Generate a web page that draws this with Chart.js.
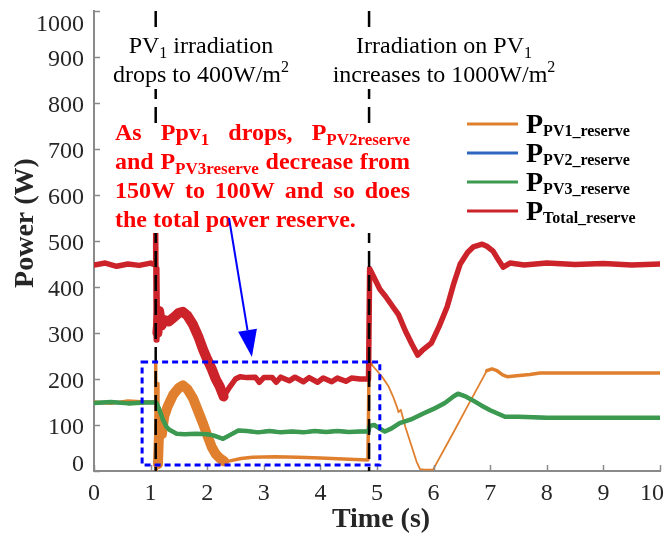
<!DOCTYPE html>
<html>
<head>
<meta charset="utf-8">
<script src="https://cdn.jsdelivr.net/npm/chart.js@4"></script>
<style>
  html, body { margin: 0; padding: 0; background: #fff; }
  canvas { display: block; }
</style>
</head>
<body>
<canvas id="powerChart" width="666" height="536"></canvas>
<script>
// time (s) and power (W)
const pv1Time  = [0, 0.3, 0.6, 0.9, 1.08, 1.09, 1.1, 1.115, 1.13, 1.16, 1.2, 1.24, 1.3, 1.4, 1.5, 1.57, 1.65, 1.75, 1.85, 1.93, 2.0, 2.08, 2.15, 2.22, 2.3, 2.4, 2.6, 2.8, 3.2, 3.6, 4.0, 4.4, 4.84, 4.86, 4.9, 5.0, 5.1, 5.2, 5.28, 5.35, 5.38, 5.42, 5.5, 5.6, 5.7, 5.76, 5.85, 5.99, 6.2, 6.4, 6.6, 6.8, 6.94, 7.03, 7.12, 7.22, 7.3, 7.47, 7.7, 7.88, 9.0, 10];
const pv1Power = [150, 147, 152, 150, 150, 235, 2, 190, 15, 120, 80, 118, 140, 166, 181, 186, 178, 158, 127, 102, 78, 52, 37, 28, 21, 22, 27, 30, 31, 30, 28, 26, 24, 235, 232, 218, 203, 185, 163, 140, 128, 133, 96, 58, 20, 4, 3, 3, 50, 95, 141, 186, 218, 222, 218, 209, 205, 207, 210, 213, 213, 213];

const pv2Time  = [0, 0.3, 0.6, 0.9, 1.1, 1.15, 1.22, 1.28, 1.34, 1.46, 1.6, 1.8, 2.0, 2.12, 2.28, 2.4, 2.55, 2.7, 2.9, 3.1, 3.3, 3.5, 3.7, 3.9, 4.1, 4.3, 4.5, 4.7, 4.85, 4.87, 4.95, 5.05, 5.14, 5.25, 5.4, 5.6, 5.8, 6.0, 6.2, 6.35, 6.43, 6.55, 6.7, 6.85, 7.0, 7.15, 7.26, 7.5, 8.0, 9.0, 10];
const pv2Power = [148, 150, 147, 149, 149, 135, 111, 96, 89, 81, 80, 81, 80, 77, 70, 78, 88, 87, 84, 87, 84, 86, 84, 87, 85, 87, 85, 86, 86, 98, 100, 92, 86, 92, 104, 112, 124, 135, 148, 162, 168, 163, 153, 142, 132, 124, 118, 118, 116, 116, 116];
const pv3Time  = pv2Time;
const pv3Power = [148, 150, 147, 149, 149, 135, 111, 96, 89, 81, 80, 81, 80, 77, 70, 78, 88, 87, 84, 87, 84, 86, 84, 87, 85, 87, 85, 86, 86, 98, 100, 92, 86, 92, 104, 112, 124, 135, 148, 162, 168, 163, 153, 142, 132, 124, 118, 118, 116, 116, 116];

const totalTime  = [0, 0.2, 0.4, 0.6, 0.8, 1.0, 1.08, 1.09, 1.1, 1.11, 1.12, 1.15, 1.19, 1.24, 1.32, 1.42, 1.5, 1.57, 1.65, 1.75, 1.85, 1.93, 2.0, 2.08, 2.15, 2.22, 2.29, 2.4, 2.5, 2.58, 2.7, 2.85, 2.92, 3.0, 3.15, 3.22, 3.3, 3.45, 3.55, 3.7, 3.8, 3.95, 4.05, 4.2, 4.3, 4.45, 4.55, 4.7, 4.85, 4.87, 4.95, 5.05, 5.15, 5.28, 5.38, 5.5, 5.62, 5.72, 5.8, 5.96, 6.1, 6.24, 6.35, 6.47, 6.6, 6.7, 6.86, 6.95, 7.05, 7.15, 7.23, 7.35, 7.6, 8.0, 8.5, 9.0, 9.5, 10];
const totalPower = [448, 452, 445, 450, 447, 452, 448, 520, 285, 440, 300, 348, 316, 328, 325, 335, 344, 346, 338, 318, 290, 263, 243, 222, 200, 184, 162, 183, 200, 205, 203, 204, 193, 203, 203, 193, 204, 196, 204, 194, 203, 193, 202, 194, 202, 195, 202, 200, 200, 440, 420, 395, 380, 357, 340, 305, 275, 252, 262, 278, 315, 357, 405, 450, 475, 487, 493, 488, 478, 458, 443, 452, 448, 452, 449, 451, 448, 450];

const xTicks = [0, 1, 2, 3, 4, 5, 6, 7, 8, 9, 10];
const yTicks = [0, 100, 200, 300, 400, 500, 600, 700, 800, 900, 1000];

const eventTimes = [1.09, 4.86];
const boxTime = [0.85, 5.05];
const boxPower = [13, 237];
const arrowTime = [2.385, 2.79];
const arrowPower = [550, 248];

const legendSubs = ['PV1_reserve', 'PV2_reserve', 'PV3_reserve', 'Total_reserve'];
const colors = { pv1: '#e0802f', pv2: '#2f66c0', pv3: '#3c9a50', total: '#cc2229' };
const legendColors = [colors.pv1, colors.pv2, colors.pv3, colors.total];

const SERIF = '"Liberation Serif", "Times New Roman", serif';

function pts(t, p) {
    return t.map((x, i) => ({ x: x, y: p[i] }));
}

function fontOf(r) {
    return (r.bold ? 'bold ' : '') + r.size + 'px ' + SERIF;
}

function runsWidth(ctx, runs) {
    let w = 0;
    runs.forEach(r => { ctx.font = fontOf(r); w += ctx.measureText(r.t).width; });
    return w;
}

function drawRuns(ctx, runs, x, y) {
    runs.forEach(r => {
        ctx.font = fontOf(r);
        ctx.fillText(r.t, x, y + (r.dy || 0));
        x += ctx.measureText(r.t).width;
    });
}

// text pieces for the notes
const N = (t) => ({ t: t, size: 24 });
const SUB = (t) => ({ t: t, size: 16, dy: 5 });
const SUP = (t) => ({ t: t, size: 16, dy: -10 });
const B = (t) => ({ t: t, size: 24, bold: true });
const BSUB = (t) => ({ t: t, size: 17, bold: true, dy: 5 });

const noteLeft = [[N('PV'), SUB('1'), N(' irradiation')], [N('drops to 400W/m'), SUP('2')]];
const noteRight = [[N('Irradiation on PV'), SUB('1')], [N('increases to 1000W/m'), SUP('2')]];
const redLines = [
    [[B('As')], [B('Ppv'), BSUB('1')], [B('drops,')], [B('P'), BSUB('PV2reserve')]],
    [[B('and')], [B('P'), BSUB('PV3reserve')], [B('decrease')], [B('from')]],
    [[B('150W')], [B('to')], [B('100W')], [B('and')], [B('so')], [B('does')]],
    [[B('the total power reserve.')]]
];

const overlay = {
    id: 'overlay',
    afterDatasetsDraw(chart) {
        const ctx = chart.ctx;
        const xs = chart.scales.x, ys = chart.scales.y;
        const area = chart.chartArea;
        ctx.save();

        // inward ticks
        ctx.strokeStyle = '#8a8a8a';
        ctx.lineWidth = 1.5;
        yTicks.forEach(v => {
            const py = Math.round(ys.getPixelForValue(v)) + 0.5;
            ctx.beginPath(); ctx.moveTo(area.left, py); ctx.lineTo(area.left + 6, py); ctx.stroke();
        });
        xTicks.forEach(v => {
            const px = Math.round(xs.getPixelForValue(v)) + 0.5;
            ctx.beginPath(); ctx.moveTo(px, area.bottom); ctx.lineTo(px, area.bottom - 6); ctx.stroke();
        });

        // event lines
        ctx.strokeStyle = '#000';
        ctx.lineWidth = 2.5;
        ctx.setLineDash([16, 8]);
        eventTimes.forEach(t => {
            const px = xs.getPixelForValue(t);
            ctx.beginPath(); ctx.moveTo(px, area.top); ctx.lineTo(px, area.bottom); ctx.stroke();
        });

        // dotted box
        ctx.strokeStyle = '#0000ff';
        ctx.lineWidth = 3;
        ctx.setLineDash([6, 4]);
        const bx0 = xs.getPixelForValue(boxTime[0]), bx1 = xs.getPixelForValue(boxTime[1]);
        const by0 = ys.getPixelForValue(boxPower[1]), by1 = ys.getPixelForValue(boxPower[0]);
        ctx.strokeRect(bx0, by0, bx1 - bx0, by1 - by0);
        ctx.setLineDash([]);

        // notes at the top
        ctx.fillStyle = '#fff';
        ctx.fillRect(108, 29, 188, 60);
        ctx.fillRect(328, 29, 236, 60);
        ctx.fillRect(113, 123, 300, 110);
        ctx.fillStyle = '#000';
        ctx.textBaseline = 'alphabetic';
        [[noteLeft, 201], [noteRight, 444]].forEach(([lines, cx]) => {
            lines.forEach((runs, i) => {
                const w = runsWidth(ctx, runs);
                drawRuns(ctx, runs, cx - w / 2, 53 + i * 29);
            });
        });

        // red justified paragraph
        ctx.fillStyle = '#ff0000';
        const left = 115, right = 410;
        redLines.forEach((words, i) => {
            const y = 140 + i * 29;
            const widths = words.map(w => runsWidth(ctx, w));
            const sum = widths.reduce((a, b) => a + b, 0);
            const gap = words.length > 1 ? (right - left - sum) / (words.length - 1) : 0;
            let x = left;
            words.forEach((w, j) => { drawRuns(ctx, w, x, y); x += widths[j] + gap; });
        });

        // arrow
        const ax0 = xs.getPixelForValue(arrowTime[0]), ay0 = ys.getPixelForValue(arrowPower[0]);
        const ax1 = xs.getPixelForValue(arrowTime[1]), ay1 = ys.getPixelForValue(arrowPower[1]);
        const len = Math.hypot(ax1 - ax0, ay1 - ay0);
        const ux = (ax1 - ax0) / len, uy = (ay1 - ay0) / len;
        const hl = 27, hw = 9.5;
        ctx.strokeStyle = '#0000ff';
        ctx.fillStyle = '#0000ff';
        ctx.lineWidth = 2;
        ctx.beginPath(); ctx.moveTo(ax0, ay0); ctx.lineTo(ax1 - ux * hl, ay1 - uy * hl); ctx.stroke();
        ctx.beginPath();
        ctx.moveTo(ax1, ay1);
        ctx.lineTo(ax1 - ux * hl - uy * hw, ay1 - uy * hl + ux * hw);
        ctx.lineTo(ax1 - ux * hl + uy * hw, ay1 - uy * hl - ux * hw);
        ctx.closePath(); ctx.fill();

        // legend
        legendSubs.forEach((s, i) => {
            const y = 124 + i * 29;
            ctx.strokeStyle = legendColors[i];
            ctx.lineWidth = 3;
            ctx.beginPath(); ctx.moveTo(467, y); ctx.lineTo(518, y); ctx.stroke();
            ctx.fillStyle = '#000';
            drawRuns(ctx, [{ t: 'P', size: 28, bold: true }, { t: s, size: 16, bold: true, dy: 3 }], 526, y + 9);
        });

        // tick labels
        ctx.fillStyle = '#262626';
        ctx.font = '24px ' + SERIF;
        ctx.textAlign = 'right';
        yTicks.forEach((v, i) => {
            let py = ys.getPixelForValue(v) + 8.5;
            if (i === 0) py -= 9;
            if (i === yTicks.length - 1) py += 11;
            ctx.fillText(String(v), 84, py);
        });
        ctx.textAlign = 'center';
        xTicks.forEach((v, i) => {
            let px = xs.getPixelForValue(v);
            if (i === xTicks.length - 1) px -= 8;
            ctx.fillText(String(v), px, 500);
        });

        // axis titles
        ctx.fillStyle = '#262626';
        ctx.font = 'bold 28px ' + SERIF;
        ctx.fillText('Time (s)', 381, 527);
        ctx.save();
        ctx.translate(33, 223);
        ctx.rotate(-Math.PI / 2);
        ctx.fillText('Power (W)', 0, 0);
        ctx.restore();

        ctx.restore();
    }
};

function widthFor(thick, normal) {
    return ctx => {
        const a = ctx.p0.parsed.x, b = ctx.p1.parsed.x;
        for (const [lo, hi, w] of thick) {
            if (a >= lo && b <= hi) return w;
        }
        return normal;
    };
}

new Chart(document.getElementById('powerChart'), {
    type: 'line',
    data: {
        datasets: [
            {
                label: 'PPV1_reserve', data: pts(pv1Time, pv1Power), borderColor: colors.pv1,
                borderWidth: 3.5, order: 4,
                segment: { borderWidth: widthFor([[1.13, 2.36, 10], [4.9, 6.95, 1.8]], 3.5) }
            },
            {
                label: 'PPV2_reserve', data: pts(pv2Time, pv2Power), borderColor: colors.pv2,
                borderWidth: 3.5, order: 3
            },
            {
                label: 'PPV3_reserve', data: pts(pv3Time, pv3Power), borderColor: colors.pv3,
                borderWidth: 4.5, order: 2
            },
            {
                label: 'PTotal_reserve', data: pts(totalTime, totalPower), borderColor: colors.total,
                borderWidth: 5.5, order: 1,
                segment: { borderWidth: widthFor([[1.12, 2.3, 10]], 5.5) }
            }
        ]
    },
    options: {
        responsive: false,
        animation: false,
        devicePixelRatio: 1,
        layout: { padding: { top: 11, right: 6, left: 0, bottom: 0 } },
        elements: { point: { radius: 0 }, line: { tension: 0, borderJoinStyle: 'round', borderCapStyle: 'round' } },
        plugins: { legend: { display: false }, tooltip: { enabled: false } },
        scales: {
            x: {
                type: 'linear', min: 0, max: 10,
                grid: { display: false },
                border: { display: true, color: '#8a8a8a', width: 2 },
                ticks: { display: false },
                afterFit: s => { s.height = 65; }
            },
            y: {
                type: 'linear', min: 0, max: 1000,
                grid: { display: false },
                border: { display: true, color: '#8a8a8a', width: 2 },
                ticks: { display: false },
                afterFit: s => { s.width = 94; }
            }
        }
    },
    plugins: [overlay]
});
</script>
</body>
</html>
